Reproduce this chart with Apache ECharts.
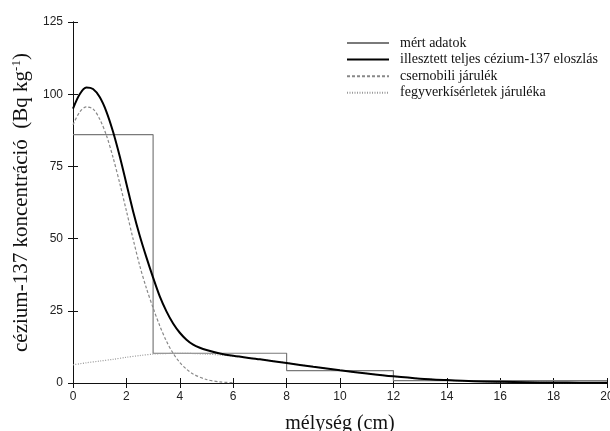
<!DOCTYPE html>
<html><head><meta charset="utf-8">
<script src="https://cdn.jsdelivr.net/npm/echarts@6/dist/echarts.min.js"></script>
<style>html,body{margin:0;padding:0;background:#fff}#c{width:610px;height:431px}</style>
</head><body><div id="c"></div>
<script>
const seriesNames = ['mért adatok', 'illesztett teljes cézium-137 eloszlás', 'csernobili járulék', 'fegyverkísérletek járuléka'];
const xTicks = [0, 2, 4, 6, 8, 10, 12, 14, 16, 18, 20];
const yTicks = [0, 25, 50, 75, 100, 125];
// measured step data: [depth, value]
const measured = [[0, 86], [3, 10.3], [8, 4.3], [12, 0.8], [20, 0.8]];
const totalX = [0, 0.25, 0.5, 0.75, 1, 1.25, 1.5, 1.75, 2, 2.25, 2.5, 2.75, 3, 3.25, 3.5, 3.75, 4, 4.25, 4.5, 4.75, 5, 5.5, 6, 7, 8, 9, 10, 11, 12, 13, 14, 15, 16, 17, 18, 19, 20];
const totalY = [95, 100, 102.3, 101.8, 99, 94, 87, 78.5, 69, 59.5, 51, 43.5, 36.5, 30, 24.8, 20.6, 17.4, 15, 13.3, 12.2, 11.4, 10.2, 9.4, 8.2, 6.9, 5.6, 4.4, 3.3, 2.3, 1.5, 1.0, 0.6, 0.4, 0.26, 0.17, 0.12, 0.08];
const chernX = [0, 0.25, 0.5, 0.75, 1, 1.25, 1.5, 1.75, 2, 2.25, 2.5, 2.75, 3, 3.25, 3.5, 3.75, 4, 4.25, 4.5, 5, 5.5, 6];
const chernY = [89.4, 93.8, 95.6, 94.9, 91.4, 85.8, 78.1, 69.2, 59.6, 49.9, 40.6, 32.8, 26, 19.8, 14.5, 10.3, 7.1, 4.8, 3.1, 1.2, 0.4, 0.1];
const weapX = [0, 0.5, 1, 1.5, 2, 2.5, 3, 3.5, 4, 4.5, 5, 5.5, 6, 6.5, 7, 7.5, 8, 8.5, 9, 9.5, 10, 10.5, 11, 11.5, 12, 12.5, 13, 13.5, 14, 14.5, 15, 16, 17, 18, 19, 20];
const weapY = [6.3, 7, 7.6, 8.2, 8.9, 9.5, 10, 10.2, 10.3, 10.2, 10, 9.7, 9.3, 8.8, 8.2, 7.6, 7, 6.3, 5.7, 5, 4.4, 3.8, 3.3, 2.8, 2.3, 1.9, 1.5, 1.2, 0.95, 0.75, 0.6, 0.38, 0.25, 0.17, 0.12, 0.08];

const zip = (xs, ys) => xs.map((x, i) => [x, ys[i]]);
const chart = echarts.init(document.getElementById('c'), null, {renderer: 'canvas'});
const tickFont = {fontFamily: 'Liberation Sans', fontSize: 12, color: '#222'};
chart.setOption({
  animation: false,
  backgroundColor: '#fff',
  grid: {left: 73, right: 3, top: 22, bottom: 48, containLabel: false, outerBoundsMode: 'none'},
  legend: {
    orient: 'vertical', left: 341, top: 31,
    itemWidth: 42, itemHeight: 10, itemGap: 2.6,
    itemStyle: {opacity: 0},
    textStyle: {fontFamily: 'Liberation Serif', fontSize: 14, color: '#111', padding: [0, 0, 0, 6]},
    data: seriesNames
  },
  xAxis: [{
    type: 'value', min: xTicks[0], max: xTicks[xTicks.length - 1], interval: 2,
    name: 'mélység (cm)', nameLocation: 'middle', nameGap: 31,
    nameTextStyle: {fontFamily: 'Liberation Serif', fontSize: 20, color: '#111'},
    axisLine: {lineStyle: {color: '#111', width: 1}},
    axisTick: {inside: true, length: 5, lineStyle: {color: '#111'}},
    axisLabel: Object.assign({margin: 8}, tickFont),
    splitLine: {show: false}
  }, {
    type: 'value', position: 'top', min: 0, max: 20, interval: 2,
    axisLine: {show: true, lineStyle: {color: '#111'}},
    axisTick: {inside: true, length: 5, lineStyle: {color: '#111'}},
    axisLabel: {show: false}, splitLine: {show: false}
  }],
  yAxis: [{
    type: 'value', min: yTicks[0], max: yTicks[yTicks.length - 1], interval: 25,
    name: 'cézium-137 koncentráció  (Bq kg{sup|-1})', nameLocation: 'middle', nameGap: 36,
    nameTextStyle: {fontFamily: 'Liberation Serif', fontSize: 21, color: '#111',
      rich: {sup: {fontFamily: 'Liberation Serif', fontSize: 13, color: '#111', verticalAlign: 'top', padding: [0, 0, 10, 0]}}},
    axisLine: {show: true, lineStyle: {color: '#111', width: 1}},
    axisTick: {inside: true, length: 5, lineStyle: {color: '#111'}},
    axisLabel: Object.assign({margin: 10}, tickFont),
    splitLine: {show: false}
  }, {
    type: 'value', position: 'right', min: 0, max: 125, interval: 25,
    axisLine: {show: true, lineStyle: {color: '#111'}},
    axisTick: {show: true, inside: true, length: 5, lineStyle: {color: '#111'}},
    axisLabel: {show: false}, splitLine: {show: false}
  }],
  series: [
    {name: seriesNames[0], type: 'line', step: 'end', data: measured, symbol: 'none',
      lineStyle: {color: '#7a7a7a', width: 1.2}, itemStyle: {color: '#7a7a7a'}, z: 2},
    {name: seriesNames[2], type: 'line', smooth: 0.3, data: zip(chernX, chernY), symbol: 'none',
      lineStyle: {color: '#888', width: 1.2, type: [3, 2]}, itemStyle: {color: '#888'}, z: 3},
    {name: seriesNames[3], type: 'line', smooth: 0.3, data: zip(weapX, weapY), symbol: 'none',
      lineStyle: {color: '#999', width: 1.2, type: [1, 1.5]}, itemStyle: {color: '#999'}, z: 3},
    {name: seriesNames[1], type: 'line', smooth: 0.3, data: zip(totalX, totalY), symbol: 'none',
      lineStyle: {color: '#000', width: 2}, itemStyle: {color: '#000'}, z: 4}
  ]
});
</script></body></html>
